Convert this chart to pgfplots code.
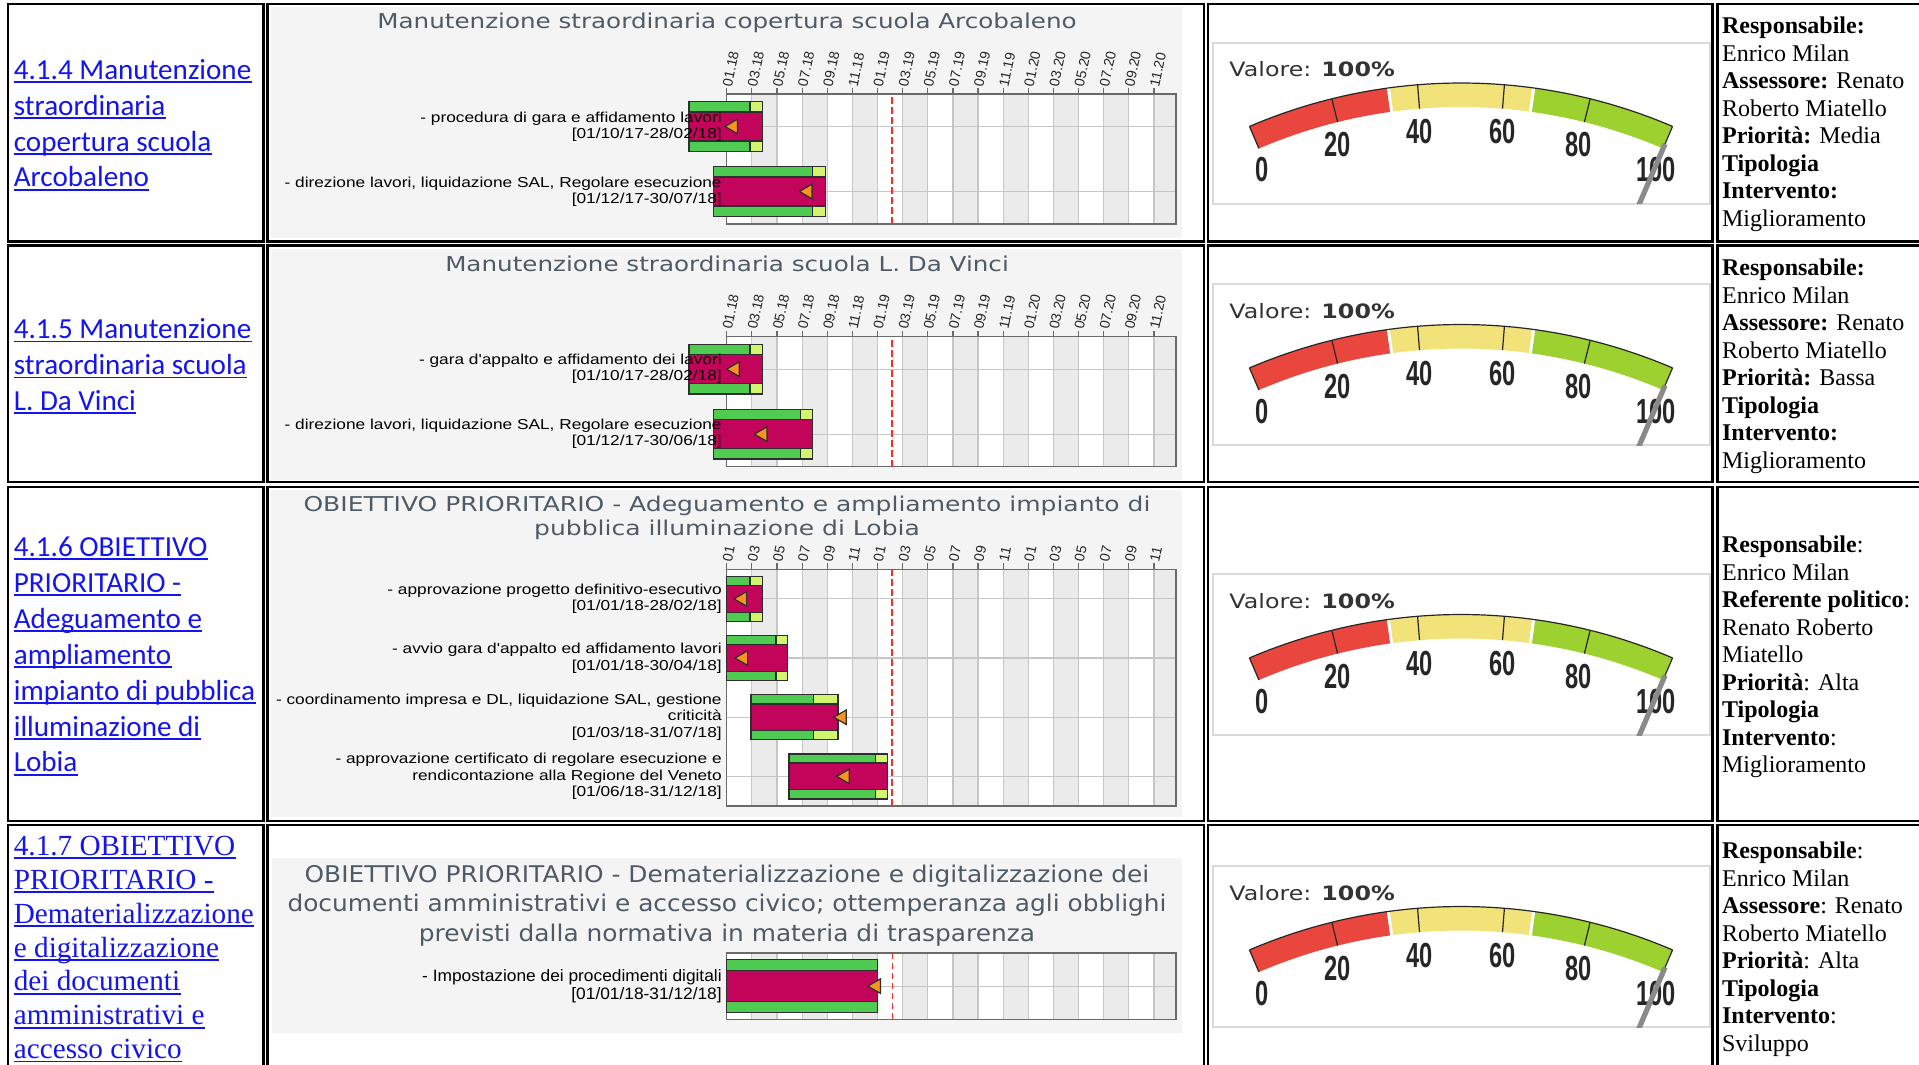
\documentclass[border=0pt]{standalone}
\usepackage{fontspec}
\usepackage{pgfplots}
\pgfplotsset{compat=1.18}
\setmainfont{Liberation Serif}
\newfontfamily\calib{Carlito}
\newfontfamily\tms{Liberation Serif}
\newfontfamily\arl{Liberation Sans}[FakeStretch=1.2]
\newfontfamily\arlb{Liberation Sans}[FakeStretch=1.05]
\newfontfamily\vrd{DejaVu Sans}[FakeStretch=1.2]
\newfontfamily\vrdc{DejaVu Sans}[FakeStretch=1.225]
\newfontfamily\vrdb{DejaVu Sans}[FakeStretch=1.08]
\newfontfamily\gnum{Liberation Sans}[FakeStretch=0.68]
\newfontfamily\tickf{Liberation Sans}

\definecolor{linkblue}{HTML}{1414F0}
\definecolor{panelbg}{HTML}{F4F4F4}
\definecolor{bandgray}{HTML}{EBEBEB}
\definecolor{gridgray}{HTML}{C6C6C6}
\definecolor{framec}{HTML}{6A6A6A}
\definecolor{gGreen}{HTML}{4FCB52}
\definecolor{gLight}{HTML}{D2F56E}
\definecolor{gMag}{HTML}{C2055B}
\definecolor{gEdge}{HTML}{2E2E2E}
\definecolor{gOrange}{HTML}{F7931E}
\definecolor{dashred}{HTML}{FF2A2A}
\definecolor{titlegray}{HTML}{4E5A66}
\definecolor{gaRed}{HTML}{E9473D}
\definecolor{gaYel}{HTML}{F1E27A}
\definecolor{gaGreen}{HTML}{9DD12F}
\definecolor{needlec}{HTML}{8A8A8A}

\pgfplotsset{
 ganttbase/.style={scale only axis, width=224.65pt, xmin=0, xmax=35.75, clip=false},
 gantt/.style={ganttbase,
   axis line style={draw=framec, line width=0.6pt},
   xtick={0,2,...,34}, xtick pos=right, xticklabel pos=right,
   tick align=outside, major tick length=3pt,
   xmajorgrids, ymajorgrids, major grid style={draw=gridgray, line width=0.6pt},
   xtick style={draw=framec, line width=0.6pt}, ytick style={draw=none},
   xticklabel style={rotate=78, anchor=west, font=\tickf\fontsize{7pt}{8pt}\selectfont, text=black!85, inner sep=0.8pt},
   yticklabels={},
 },
 bands/.style={ganttbase, hide axis, ymin=0, ymax=1},
}

\newcommand\bandplot{\addplot[ybar interval, fill=bandgray, draw=none] coordinates {(0,0) (2,1) (4,0) (6,1) (8,0) (10,1) (12,0) (14,1) (16,0) (18,1) (20,0) (22,1) (24,0) (26,1) (28,0) (30,1) (32,0) (34,1) (35.75,0)};}

\newcommand\gbar[7]{%
 \pgfmathsetmacro\gya{#1-#6}\pgfmathsetmacro\gyb{#1+#6}%
 \pgfmathsetmacro\gyc{#1-#7}\pgfmathsetmacro\gyd{#1+#7}%
 \edef\gbtmp{%
 \noexpand\addplot[fill=gGreen, draw=gEdge, line width=0.65pt, forget plot] coordinates {(#2,\gya) (#3,\gya) (#3,\gyb) (#2,\gyb)} -- cycle;%
 \noexpand\addplot[fill=gLight, draw=gEdge, line width=0.65pt, forget plot] coordinates {(#4,\gya) (#3,\gya) (#3,\gyb) (#4,\gyb)} -- cycle;%
 \noexpand\addplot[fill=gMag, draw=gEdge, line width=0.65pt, forget plot] coordinates {(#2,\gyc) (#3,\gyc) (#3,\gyd) (#2,\gyd)} -- cycle;%
 \noexpand\addplot[only marks, mark=triangle*, mark size=4.2pt, mark options={rotate=90, fill=gOrange, draw=gEdge, line width=0.6pt}, forget plot] coordinates {(#5,#1)};%
 }\gbtmp}
% task label, drawn on top of the bars
\newcommand\glab[3]{\node[anchor=east, align=right, inner sep=0pt, xshift=-2.3pt, text=black, font=#3] at (axis cs:0,#1) {#2};}

\newcommand\lk[4]{%
 \node[anchor=base west, inner sep=0pt, text=linkblue, font=#3] (L) at (#1,#2) {#4};
 \draw[linkblue, line width=0.9pt] ([yshift=-1.4pt]L.base west) -- ([yshift=-1.4pt]L.base east);}
\newcommand\ct[3]{\node[anchor=base west, inner sep=0pt, font=\tms\fontsize{12pt}{14pt}\selectfont] at (#1,#2) {#3};}
\newcommand\gtitle[3]{\node[anchor=base, inner sep=0pt, text=titlegray, font=#3] at (727,#1) {#2};}

\newcommand\gsector[3]{%
 \path[fill=#3] ([shift={(#1:268.5pt)}]C) arc[start angle=#1,end angle=#2,radius=268.5pt] -- ([shift={(#2:256.5pt)}]C) arc[start angle=#2,end angle=#1,radius=256.5pt] -- cycle;}
\def\gnumfont{\gnum\bfseries\fontsize{17.4pt}{19pt}\selectfont}

\newcommand\gaugeat[1]{%
\begin{axis}[at={(606.5pt,#1)}, anchor=south west, scale only axis, width=248.5pt, height=80.5pt,
  xmin=1213, xmax=1710, ymin=43, ymax=204, y dir=reverse,
  xtick=\empty, ytick=\empty, axis line style={draw=black!15, line width=1pt},
  axis background/.style={fill=white}]
 \coordinate (C) at (axis cs:1461,620);
 \gsector{113.2}{97.95}{gaRed}
 \gsector{97.6}{82.4}{gaYel}
 \gsector{82.05}{66.8}{gaGreen}
 \draw[black!85, line width=0.6pt] ([shift={(113.2:268.5pt)}]C) arc[start angle=113.2,end angle=66.8,radius=268.5pt];
 \pgfplotsinvokeforeach{113.2,103.92,94.64,85.36,76.08,66.8}{\draw[black!85,line width=0.6pt] ([shift={(##1:256.5pt)}]C) -- ([shift={(##1:268.5pt)}]C);}
 \node[anchor=base west, inner sep=0pt, text=black!80, font=\vrd\fontsize{9.9pt}{12pt}\selectfont] at (axis cs:1229,77) {Valore: \textbf{100\%}};
 \node[anchor=base, inner sep=0pt, text=black!85, font=\gnumfont] at (axis cs:1262,182) {0};
 \node[anchor=base, inner sep=0pt, text=black!85, font=\gnumfont] at (axis cs:1337.6,157) {20};
 \node[anchor=base, inner sep=0pt, text=black!85, font=\gnumfont] at (axis cs:1419.3,144) {40};
 \node[anchor=base, inner sep=0pt, text=black!85, font=\gnumfont] at (axis cs:1502.8,144) {60};
 \node[anchor=base, inner sep=0pt, text=black!85, font=\gnumfont] at (axis cs:1578.4,157) {80};
 \node[anchor=base, inner sep=0pt, text=black!85, font=\gnumfont] at (axis cs:1656.4,182) {100};
 \addplot[draw=needlec, line width=2.6pt] coordinates {(1461,620) (1665,144)};
\end{axis}}

\begin{document}
\begin{tikzpicture}
\useasboundingbox (0,0) rectangle (959.5pt,532.5pt);
\clip (0,0) rectangle (959.5pt,532.5pt);
\fill[white] (0,0) rectangle (959.5pt,532.5pt);
\begin{scope}[x=0.5pt,y=-0.5pt,shift={(0pt,532.5pt)}]
 % gantt panels
 \fill[panelbg] (271,7) rectangle (1182,238);
 \fill[panelbg] (271,249) rectangle (1182,480);
 \fill[panelbg] (271,490) rectangle (1182,817);
 \fill[panelbg] (272,858) rectangle (1182,1033);
 \fill[white] (726.7,94) rectangle (1176,224);
 \fill[white] (726.7,336.7) rectangle (1176,466.7);
 \fill[white] (726.7,569.3) rectangle (1176,806);
 \fill[white] (726.7,953) rectangle (1176,1019.3);
 % table cells
 \foreach \ya/\yb in {4/241.5, 245.5/482, 487/821, 825/1080}
  \foreach \xa/\xb in {8/263.5, 267.5/1204, 1208/1712.5, 1717.5/1935}
   \draw[line width=1.4pt] (\xa,\ya) rectangle (\xb,\yb);
 % gantt titles
 \gtitle{29}{Manutenzione straordinaria copertura scuola Arcobaleno}{\vrd\fontsize{10.25pt}{12pt}\selectfont}
 \gtitle{271.5}{Manutenzione straordinaria scuola L. Da Vinci}{\vrd\fontsize{10.25pt}{12pt}\selectfont}
 \gtitle{511.7}{OBIETTIVO PRIORITARIO - Adeguamento e ampliamento impianto di}{\vrdc\fontsize{10.2pt}{12pt}\selectfont}
 \gtitle{535.5}{pubblica illuminazione di Lobia}{\vrdc\fontsize{10.2pt}{12pt}\selectfont}
 \gtitle{882.5}{OBIETTIVO PRIORITARIO - Dematerializzazione e digitalizzazione dei}{\vrdb\fontsize{11.5pt}{13pt}\selectfont}
 \gtitle{912}{documenti amministrativi e accesso civico; ottemperanza agli obblighi}{\vrdb\fontsize{11.5pt}{13pt}\selectfont}
 \gtitle{941.5}{previsti dalla normativa in materia di trasparenza}{\vrdb\fontsize{11.5pt}{13pt}\selectfont}
 % column 1 links
 \def\fa{\calib\fontsize{14.55pt}{17pt}\selectfont}
 \def\fb{\tms\fontsize{14.6pt}{17pt}\selectfont}
 \lk{13.5}{79.3}{\fa}{4.1.4 Manutenzione}
 \lk{13.5}{115.2}{\fa}{straordinaria}
 \lk{13.5}{151.1}{\fa}{copertura scuola}
 \lk{13.5}{187}{\fa}{Arcobaleno}
 \lk{13.5}{338.8}{\fa}{4.1.5 Manutenzione}
 \lk{13.5}{374.7}{\fa}{straordinaria scuola}
 \lk{13.5}{410.6}{\fa}{L. Da Vinci}
 \lk{13.5}{556.6}{\fa}{4.1.6 OBIETTIVO}
 \lk{13.5}{592.5}{\fa}{PRIORITARIO -}
 \lk{13.5}{628.4}{\fa}{Adeguamento e}
 \lk{13.5}{664.3}{\fa}{ampliamento}
 \lk{13.5}{700.2}{\fa}{impianto di pubblica}
 \lk{13.5}{736.1}{\fa}{illuminazione di}
 \lk{13.5}{772}{\fa}{Lobia}
 \lk{13.5}{855.4}{\fb}{4.1.7 OBIETTIVO}
 \lk{13.5}{889.3}{\fb}{PRIORITARIO -}
 \lk{13.5}{923.2}{\fb}{Dematerializzazione}
 \lk{13.5}{957.1}{\fb}{e digitalizzazione}
 \lk{13.5}{991}{\fb}{dei documenti}
 \lk{13.5}{1024.9}{\fb}{amministrativi e}
 \lk{13.5}{1058.8}{\fb}{accesso civico}
 % column 4
 \ct{1721.7}{34}{\textbf{Responsabile:}}
 \ct{1721.7}{61.5}{Enrico Milan}
 \ct{1721.7}{89}{\textbf{Assessore:} Renato}
 \ct{1721.7}{116.5}{Roberto Miatello}
 \ct{1721.7}{144}{\textbf{Priorità:} Media}
 \ct{1721.7}{171.5}{\textbf{Tipologia}}
 \ct{1721.7}{199}{\textbf{Intervento:}}
 \ct{1721.7}{226.5}{Miglioramento}
 \ct{1721.7}{276}{\textbf{Responsabile:}}
 \ct{1721.7}{303.5}{Enrico Milan}
 \ct{1721.7}{331}{\textbf{Assessore:} Renato}
 \ct{1721.7}{358.5}{Roberto Miatello}
 \ct{1721.7}{386}{\textbf{Priorità:} Bassa}
 \ct{1721.7}{413.5}{\textbf{Tipologia}}
 \ct{1721.7}{441}{\textbf{Intervento:}}
 \ct{1721.7}{468.5}{Miglioramento}
 \ct{1721.7}{552.6}{\textbf{Responsabile}:}
 \ct{1721.7}{580.1}{Enrico Milan}
 \ct{1721.7}{607.6}{\textbf{Referente politico}:}
 \ct{1721.7}{635.1}{Renato Roberto}
 \ct{1721.7}{662.6}{Miatello}
 \ct{1721.7}{690.1}{\textbf{Priorità}: Alta}
 \ct{1721.7}{717.6}{\textbf{Tipologia}}
 \ct{1721.7}{745.1}{\textbf{Intervento}:}
 \ct{1721.7}{772.6}{Miglioramento}
 \ct{1721.7}{858.6}{\textbf{Responsabile}:}
 \ct{1721.7}{886.1}{Enrico Milan}
 \ct{1721.7}{913.6}{\textbf{Assessore}: Renato}
 \ct{1721.7}{941.1}{Roberto Miatello}
 \ct{1721.7}{968.6}{\textbf{Priorità}: Alta}
 \ct{1721.7}{996.1}{\textbf{Tipologia}}
 \ct{1721.7}{1023.6}{\textbf{Intervento}:}
 \ct{1721.7}{1051.1}{Sviluppo}
\end{scope}

% ---------- band layers ----------
\begin{axis}[bands, at={(363.35pt,420.5pt)}, anchor=south west, height=65pt]\bandplot\end{axis}
\begin{axis}[bands, at={(363.35pt,299.15pt)}, anchor=south west, height=65pt]\bandplot\end{axis}
\begin{axis}[bands, at={(363.35pt,129.5pt)}, anchor=south west, height=118.35pt]\bandplot\end{axis}
\begin{axis}[bands, at={(363.35pt,22.85pt)}, anchor=south west, height=33.15pt]\bandplot\end{axis}

\def\lfa{\arl\fontsize{7.2pt}{8pt}\selectfont}
\def\lfb{\arl\fontsize{7.2pt}{8.35pt}\selectfont}
\def\lfc{\arlb\fontsize{8.25pt}{9.2pt}\selectfont}

% ---------- Gantt 4.1.4 ----------
\begin{axis}[gantt, at={(363.35pt,420.5pt)}, anchor=south west, height=65pt,
  ymin=0, ymax=2, ytick={0.5,1.5},
  xticklabels={01.18,03.18,05.18,07.18,09.18,11.18,01.19,03.19,05.19,07.19,09.19,11.19,01.20,03.20,05.20,07.20,09.20,11.20}]
 \addplot[dashred, line width=0.75pt, dash pattern=on 3.3pt off 1.7pt] coordinates {(13.14,0) (13.14,2)};
 \gbar{1.5}{-3}{2.87}{1.86}{0.53}{0.38}{0.225}
 \gbar{0.5}{-1.03}{7.86}{6.82}{6.45}{0.38}{0.225}
 \glab{1.5}{- procedura di gara e affidamento lavori\\{}[01/10/17-28/02/18]}{\lfa}
 \glab{0.5}{- direzione lavori, liquidazione SAL, Regolare esecuzione\\{}[01/12/17-30/07/18]}{\lfa}
\end{axis}

% ---------- Gantt 4.1.5 ----------
\begin{axis}[gantt, at={(363.35pt,299.15pt)}, anchor=south west, height=65pt,
  ymin=0, ymax=2, ytick={0.5,1.5},
  xticklabels={01.18,03.18,05.18,07.18,09.18,11.18,01.19,03.19,05.19,07.19,09.19,11.19,01.20,03.20,05.20,07.20,09.20,11.20}]
 \addplot[dashred, line width=0.75pt, dash pattern=on 3.3pt off 1.7pt] coordinates {(13.14,0) (13.14,2)};
 \gbar{1.5}{-3}{2.87}{1.86}{0.66}{0.38}{0.225}
 \gbar{0.5}{-1.06}{6.82}{5.89}{2.87}{0.38}{0.225}
 \glab{1.5}{- gara d'appalto e affidamento dei lavori\\{}[01/10/17-28/02/18]}{\lfa}
 \glab{0.5}{- direzione lavori, liquidazione SAL, Regolare esecuzione\\{}[01/12/17-30/06/18]}{\lfa}
\end{axis}

% ---------- Gantt 4.1.6 ----------
\begin{axis}[gantt, at={(363.35pt,129.5pt)}, anchor=south west, height=118.35pt,
  ymin=0, ymax=4, ytick={0.5,1.5,2.5,3.5},
  xticklabels={01,03,05,07,09,11,01,03,05,07,09,11,01,03,05,07,09,11}]
 \addplot[dashred, line width=0.75pt, dash pattern=on 3.3pt off 1.7pt] coordinates {(13.14,0) (13.14,4)};
 \gbar{3.5}{0}{2.87}{1.86}{1.25}{0.38}{0.226}
 \gbar{2.5}{0}{4.83}{3.93}{1.33}{0.38}{0.226}
 \gbar{1.5}{1.94}{8.86}{6.93}{9.18}{0.38}{0.226}
 \gbar{0.5}{4.96}{12.79}{11.86}{9.42}{0.38}{0.226}
 \glab{3.5}{- approvazione progetto definitivo-esecutivo\\{}[01/01/18-28/02/18]}{\lfb}
 \glab{2.5}{- avvio gara d'appalto ed affidamento lavori\\{}[01/01/18-30/04/18]}{\lfb}
 \glab{1.5}{- coordinamento impresa e DL, liquidazione SAL, gestione\\criticità\\{}[01/03/18-31/07/18]}{\lfb}
 \glab{0.5}{- approvazione certificato di regolare esecuzione e\\rendicontazione alla Regione del Veneto\\{}[01/06/18-31/12/18]}{\lfb}
\end{axis}

% ---------- Gantt 4.1.7 ----------
\begin{axis}[gantt, at={(363.35pt,22.85pt)}, anchor=south west, height=33.15pt,
  ymin=0, ymax=1, ytick={0.5}, xticklabels={}, xtick style={draw=none}]
 \addplot[dashred, line width=0.75pt, dash pattern=on 3.3pt off 1.7pt] coordinates {(13.2,0) (13.2,1)};
 \gbar{0.5}{0}{12}{12}{11.9}{0.4}{0.235}
 \glab{0.5}{- Impostazione dei procedimenti digitali\\{}[01/01/18-31/12/18]}{\lfc}
\end{axis}

% ---------- gauges ----------
\gaugeat{430.5pt}
\gaugeat{309.75pt}
\gaugeat{164.75pt}
\gaugeat{18.75pt}
\end{tikzpicture}
\end{document}
